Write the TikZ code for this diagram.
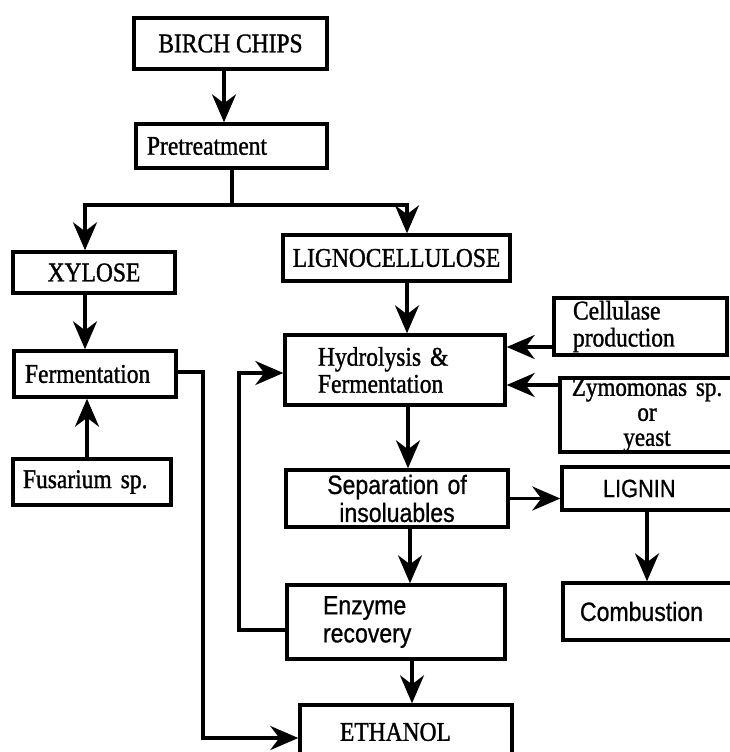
\documentclass[tikz,border=0pt]{standalone}
\usepackage{fontspec}
\setmainfont{Liberation Serif}[FakeStretch=0.87,FakeBold=1.2]
\setsansfont{Liberation Sans}[FakeStretch=0.87,FakeBold=0.8]
\usetikzlibrary{arrows.meta}
\tikzset{
  box/.style={draw, line width=3.4pt, inner ysep=0pt},
  serifbox/.style={box, font=\rmfamily\fontsize{27}{27}\selectfont},
  sansbox/.style={box, font=\sffamily\fontsize{26.5}{28}\selectfont},
  conn/.style={line width=3.4pt},
  arr/.style={conn, -{Stealth[length=28pt,width=24pt,inset=9pt]}},
}
\begin{document}
\begin{tikzpicture}[x=1pt,y=-1pt]
\useasboundingbox (0,0) rectangle (730,752);
\clip (0,0) rectangle (730,752);

% nodes
\node[serifbox, minimum width=193pt, minimum height=51pt] (birch) at (230.5,43.5) {BIRCH CHIPS};
\node[serifbox, text width=169pt, inner xsep=11pt, minimum height=44pt, align=left] (pre) at (231.5,146) {Pretreatment};
\node[serifbox, minimum width=162pt, minimum height=41pt] (xylose) at (94,272.5) {XYLOSE};
\node[serifbox, minimum width=227pt, minimum height=46pt] (ligno) at (396.5,258) {LIGNOCELLULOSE};
\node[serifbox, text width=140pt, inner xsep=11pt, minimum height=46pt, align=left] (ferm) at (95,374) {Fermentation};
\node[serifbox, text width=138pt, inner xsep=10pt, minimum height=46pt, align=left] (fus) at (92,482) {Fusarium sp.};
\node[serifbox, text width=154pt, inner xsep=33pt, minimum height=70pt, align=left] (hydro) at (395,370) {Hydrolysis \&\\Fermentation};
\node[serifbox, text width=135pt, inner xsep=19pt, minimum height=57pt, align=left] (cell) at (640.5,326.5) {Cellulase\\production};
\node[box, font=\rmfamily\fontsize{26.5}{25}\selectfont, text width=166pt, inner xsep=4pt, minimum height=74pt, align=center] (zymo) at (647,415) {Zymomonas sp.\\or\\yeast};
\node[sansbox, text width=202pt, inner xsep=10pt, minimum height=57pt, align=center] (sep) at (397,498.5) {Separation of\\insoluables};
\node[box, font=\sffamily\fontsize{25}{26}\selectfont, text width=150pt, inner xsep=41pt, minimum height=43pt, align=left] (lignin) at (678,488.5) {LIGNIN};
\node[sansbox, text width=160pt, inner xsep=17pt, minimum height=57pt, align=left] (comb) at (660,611.5) {Combustion};
\node[sansbox, text width=146pt, inner xsep=36pt, minimum height=74pt, align=left] (enz) at (396,622) {Enzyme\\recovery};
\node[serifbox, text width=132pt, inner xsep=40pt, minimum height=54pt, align=left] (eth) at (406,732) {ETHANOL};

% helper coordinates
\coordinate (jn) at (232,205);
\coordinate (jl) at (85,205);
\coordinate (jr) at (407,205);
\coordinate (xb) at (224,0);
\coordinate (xf) at (87,0);
\coordinate (xh) at (408,0);
\coordinate (xs) at (410,0);
\coordinate (xe) at (412,0);
\coordinate (xl) at (647,0);
\coordinate (yc) at (0,347);
\coordinate (yz) at (0,385);
\coordinate (lp1) at (239,630);
\coordinate (lp2) at (239,373);
\coordinate (fe1) at (203,372);
\coordinate (fe2) at (203,738);

% connectors
\draw[arr] (birch.south -| xb) -- (pre.north -| xb);
\draw[conn] (pre.south -| jn) -- (jn);
\draw[arr] (jn) -- (jl) -- (jl |- xylose.north);
\draw[arr] (jn) -- (jr) -- (jr |- ligno.north);
\draw[arr] (xylose.south -| jl) -- (ferm.north -| jl);
\draw[arr] (fus.north -| xf) -- (ferm.south -| xf);
\draw[arr] (ligno.south -| jr) -- (hydro.north -| jr);
\draw[arr] (hydro.south -| xh) -- (sep.north -| xh);
\draw[arr] (sep.south -| xs) -- (enz.north -| xs);
\draw[arr] (enz.south -| xe) -- (eth.north -| xe);
\draw[arr] (cell.west |- yc) -- (hydro.east |- yc);
\draw[arr] (zymo.west |- yz) -- (hydro.east |- yz);
\draw[arr] (sep.east) -- (sep.east -| lignin.west);
\draw[arr] (lignin.south -| xl) -- (comb.north -| xl);
\draw[arr] (enz.west |- lp1) -- (lp1) -- (lp2) -- (hydro.west |- lp2);
\draw[arr] (ferm.east |- fe1) -- (fe1) -- (fe2) -- (eth.west |- fe2);
\end{tikzpicture}
\end{document}
